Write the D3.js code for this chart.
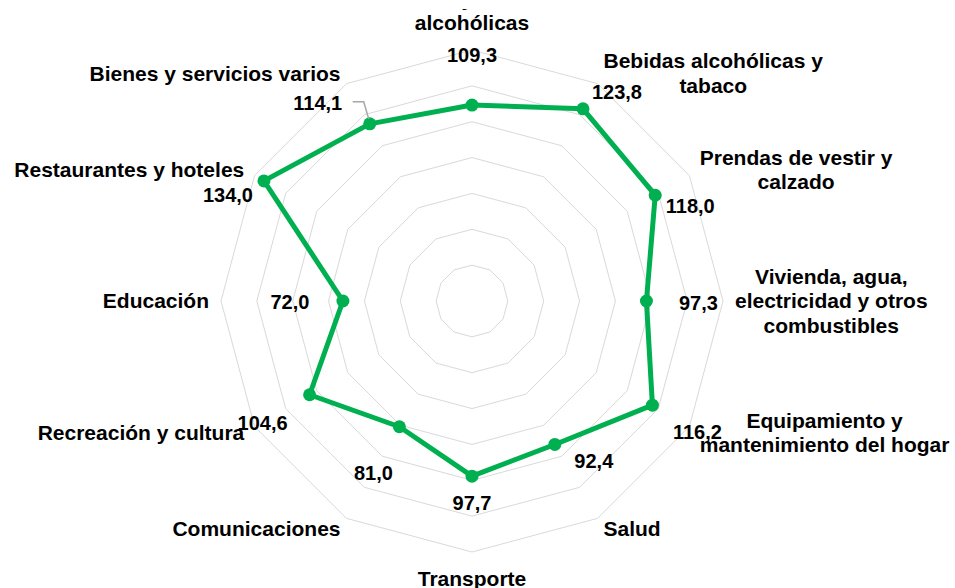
<!DOCTYPE html>
<html>
<head>
<meta charset="utf-8">
<script src="https://cdn.jsdelivr.net/npm/d3@7"></script>
<style>
  body { margin: 0; background: #fff; }
  svg text { font-family: "Liberation Sans", Arial, Helvetica, sans-serif; font-weight: bold; fill: #000; }
</style>
</head>
<body>
<div id="chart"></div>
<script>
// categories clockwise from the top, "\n" marks the line breaks of the label
const categories = [
  "Alimentos y bebidas no\nalcohólicas",
  "Bebidas alcohólicas y\ntabaco",
  "Prendas de vestir y\ncalzado",
  "Vivienda, agua,\nelectricidad y otros\ncombustibles",
  "Equipamiento y\nmantenimiento del hogar",
  "Salud",
  "Transporte",
  "Comunicaciones",
  "Recreación y cultura",
  "Educación",
  "Restaurantes y hoteles",
  "Bienes y servicios varios"
];
const values = [109.3, 123.8, 118.0, 97.3, 116.2, 92.4, 97.7, 81.0, 104.6, 72.0, 134.0, 114.1];
const gridTicks = [20, 40, 60, 80, 100, 120, 140];

// hand-placed data label offsets (dx, dy from the marker), as in the original
const labelShift = [[0, -50], [34, -17], [35, 11], [52, 2], [45, 27], [39, 17],
                    [0, 27], [-26, 46], [-47, 28], [-53, 1], [-36, 14], [-52, -21]];
const leaderIndex = 11; // the one label with a leader line

const width = 955;
const height = 588;
const cx = 472, cy = 301;
const outerR = 251;

const svg = d3.select("#chart")
  .append("svg")
  .attr("width", width)
  .attr("height", height);

// chart area clip: the top category label runs past it in the original
svg.append("clipPath")
  .attr("id", "area")
  .append("rect")
  .attr("x", -cx)
  .attr("y", 9 - cy)
  .attr("width", width)
  .attr("height", height);

const g = svg.append("g")
  .attr("transform", `translate(${cx},${cy})`);

const rScale = d3.scaleLinear()
  .domain([0, d3.max(gridTicks)])
  .range([0, outerR]);

const angle = d3.scaleLinear()
  .domain([0, categories.length])
  .range([0, 2 * Math.PI]);

const radial = d3.lineRadial()
  .angle((d, i) => angle(i))
  .radius(d => rScale(d))
  .curve(d3.curveLinearClosed);

// polar -> xy (angle 0 at top, clockwise)
const toXY = (i, r) => [r * Math.sin(angle(i)), -r * Math.cos(angle(i))];

// grid rings
g.selectAll(".ring")
  .data(gridTicks)
  .enter()
  .append("path")
  .attr("class", "ring")
  .attr("d", t => radial(categories.map(() => t)))
  .attr("fill", "none")
  .attr("stroke", "#d9d9d9")
  .attr("stroke-width", 1);

// series line
g.append("path")
  .attr("d", radial(values))
  .attr("fill", "none")
  .attr("stroke", "#00b050")
  .attr("stroke-width", 5)
  .attr("stroke-linejoin", "round");

// markers
g.selectAll(".dot")
  .data(values)
  .enter()
  .append("circle")
  .attr("class", "dot")
  .attr("cx", (d, i) => toXY(i, rScale(d))[0])
  .attr("cy", (d, i) => toXY(i, rScale(d))[1])
  .attr("r", 6.5)
  .attr("fill", "#00b050");

// leader line for the moved label
const lp = toXY(leaderIndex, rScale(values[leaderIndex]));
const ls = labelShift[leaderIndex];
g.append("path")
  .attr("d", `M${lp[0] + ls[0] + 35},${lp[1] + ls[1] - 1}h11L${lp[0] - 1},${lp[1] - 5}`)
  .attr("fill", "none")
  .attr("stroke", "#a6a6a6")
  .attr("stroke-width", 1.5);

// data labels
g.selectAll(".val")
  .data(values)
  .enter()
  .append("text")
  .attr("class", "val")
  .attr("x", (d, i) => toXY(i, rScale(d))[0] + labelShift[i][0])
  .attr("y", (d, i) => toXY(i, rScale(d))[1] + labelShift[i][1])
  .attr("dy", "0.35em")
  .attr("text-anchor", "middle")
  .style("font-size", "20px")
  .text(d => d.toFixed(1).replace(".", ","));

// category labels
const lineH = 24.5;
const gap = 12;
const labels = g.append("g").attr("clip-path", "url(#area)");
categories.forEach((name, i) => {
  const lines = name.split("\n");
  const [ax, ay] = toXY(i, outerR + gap);
  const s = Math.sin(angle(i)), c = Math.cos(angle(i));
  const t = labels.append("text").style("font-size", "21px").attr("text-anchor", "middle");
  const spans = lines.map(l => t.append("tspan").text(l));
  const maxW = d3.max(spans, sp => sp.node().getComputedTextLength());
  let bx = ax;
  if (s > 0.01) bx = ax + maxW / 2;
  else if (s < -0.01) bx = ax - maxW / 2;
  let top;
  if (Math.abs(s) < 0.01 && c > 0) top = ay - lines.length * lineH - 3;
  else if (Math.abs(s) < 0.01 && c < 0) top = ay + 2;
  else top = ay - lines.length * lineH / 2;
  spans.forEach((sp, k) => {
    sp.attr("x", bx).attr("y", top + lineH * k + lineH / 2).attr("dy", "0.35em");
  });
});
</script>
</body>
</html>
